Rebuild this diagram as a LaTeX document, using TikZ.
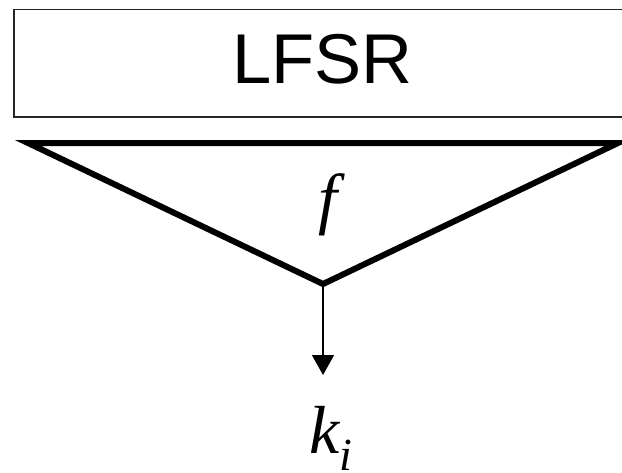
\documentclass[tikz,border=0pt]{standalone}
\usepackage{fontspec}
\setmainfont{Liberation Serif}
\newfontfamily\hvfont{Liberation Sans}
\usetikzlibrary{arrows.meta}
\begin{document}
\begin{tikzpicture}[x=1pt,y=-1pt,
  boxstyle/.style={draw=black!85, line width=1.6pt, minimum width=618pt, minimum height=107.5pt, inner sep=0pt},
  boxtext/.style={font=\hvfont\fontsize{70.5}{80}\selectfont, inner sep=0pt, anchor=base},
  funnel/.style={line width=6pt, line join=miter},
  lbl/.style={font=\itshape\fontsize{68}{80}\selectfont, inner sep=0pt, anchor=base},
  arr/.style={line width=1.5pt, -{Triangle[length=20pt,width=22pt]}}]
\useasboundingbox[clip] (0,0) rectangle (622,472);
\node[boxstyle] (lfsr) at (323,63.25) {};
\node[boxtext] (lfsrtext) at (322.5,83) {LFSR};
\coordinate (tl) at (28,143);
\coordinate (tr) at (618,143);
\coordinate (apex) at (323,284);
\draw[funnel] (tl) -- (tr) -- (apex) -- cycle;
\node[lbl] (f) at (328,221) {f};
\node[lbl, anchor=base west] (ki) at (309,453) {k\raisebox{-17pt}{\fontsize{46}{50}\selectfont i}};
\coordinate (tip) at (323,375);
\draw[arr] (apex) -- (tip);
\end{tikzpicture}
\end{document}
